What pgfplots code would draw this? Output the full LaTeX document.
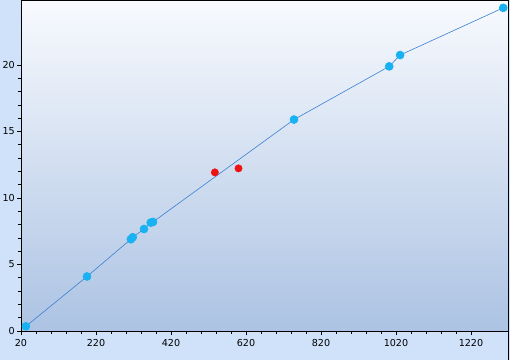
\documentclass[border=0pt]{standalone}
\usepackage{pgfplots}
\pgfplotsset{compat=1.18}
\usetikzlibrary{backgrounds,calc}
\usepackage{fontspec}
\setmainfont{DejaVu Sans}
\definecolor{margin}{HTML}{D0E2FA}
\definecolor{gtop}{HTML}{F8FAFE}
\definecolor{gbot}{HTML}{ACC3E3}
\definecolor{lineblue}{HTML}{3A80D2}
\definecolor{mcyan}{HTML}{18B2F2}
\definecolor{mred}{HTML}{EE1111}
\begin{document}
\begin{tikzpicture}
\begin{axis}[
  name=ax,
  scale only axis, width=487pt, height=331pt,
  xmin=20, xmax=1318.7, ymin=0, ymax=24.89,
  xtick={20,220,...,1220}, ytick={0,5,...,20},
  minor x tick num=4, minor y tick num=4,
  tick align=outside, xtick pos=left, ytick pos=left,
  major tick length=4pt, minor tick length=3pt,
  tick style={black, line width=0.8pt},
  axis line style={black, line width=0.9pt},
  axis background/.style={top color=gtop, bottom color=gbot},
  ticklabel style={font=\fontsize{9.6}{10}\selectfont},
  /pgf/number format/assume math mode=true,
  /pgf/number format/1000 sep={},
  xticklabel style={yshift=-1pt},
  yticklabel style={inner xsep=2pt},
  clip=false,
]
\addplot[lineblue, line width=0.6pt, mark=*, mark size=4pt,
  mark options={fill=mcyan, draw=mcyan}] coordinates {
  (33,0.35) (196,4.1) (313,6.9) (318,7.05) (348,7.67) (366,8.15) (372,8.2)
  (748,15.9) (1002,19.9) (1031,20.75) (1306,24.3)
};
\addplot[only marks, mark=*, mark size=3.7pt,
  mark options={fill=mred, draw=mred}] coordinates {
  (537,11.93) (600,12.23)
};
\end{axis}
\begin{scope}[on background layer]
\fill[margin] ($(ax.south west)+(-21pt,-29pt)$) rectangle +(510pt,360pt);
\end{scope}
\draw[black, line width=0.9pt] ($(ax.south east)+(0.5pt,-29pt)$) -- +(0,360pt);
\pgfresetboundingbox
\useasboundingbox ($(ax.south west)+(-21pt,-29pt)$) rectangle +(510pt,360pt);
\end{tikzpicture}
\end{document}
